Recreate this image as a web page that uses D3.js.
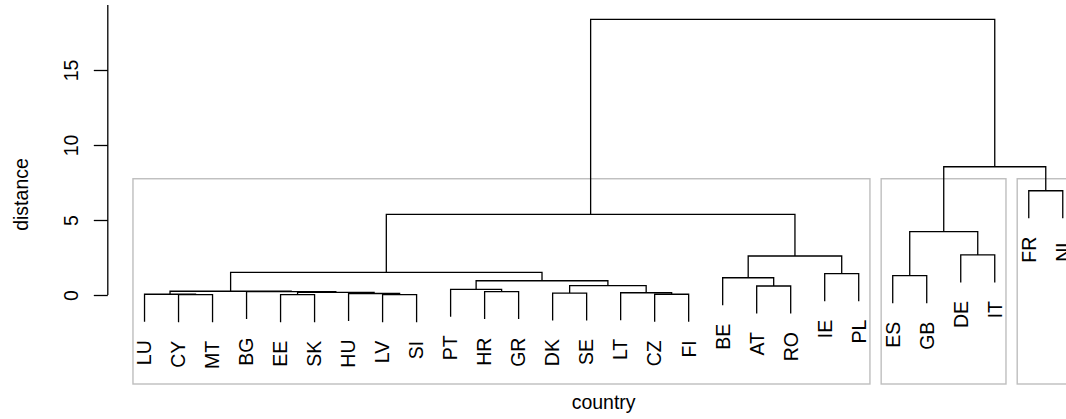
<!DOCTYPE html>
<html><head><meta charset="utf-8">
<script src="https://cdn.jsdelivr.net/npm/d3@7"></script>
<style>
body{margin:0;background:#fff}
text{font-family:"Liberation Sans",Arial,sans-serif;fill:#000}
</style>
</head><body>
<svg id="chart" width="1066" height="419"></svg>
<script>
// leaf labels in dendrogram order
const countries = ["LU","CY","MT","BG","EE","SK","HU","LV","SI","PT","HR","GR","DK","SE","LT","CZ","FI","BE","AT","RO","IE","PL","ES","GB","DE","IT","FR","NL"];
// merges (R hclust style: negative = leaf index in countries, positive = earlier merge number)
const mergeA = [-2,-5,-8,-16,-1,-7,-13,-15, 2,-4, 5,-11,-10,-19, 7,13,-18,-23,-21,11,17,-25,18,20,-27,23,24];
const mergeB = [-3,-6,-9,-17, 1, 3,-14,  4, 6, 9,10,-12, 12,-20, 8,15, 14,-24,-22,16,19,-26,22,21,-28,25,26];
const mergeHeight = [0.02,0.02,0.02,0.05,0.05,0.1,0.13,0.15,0.17,0.23,0.25,0.23,0.38,0.6,0.62,0.95,1.15,1.29,1.42,1.51,2.6,2.67,4.22,5.38,6.95,8.55,18.37];
const yTicks = [0, 5, 10, 15];
const clusterSizes = [22, 4, 2];
const xTitle = "country";
const yTitle = "distance";

const svg = d3.select("#chart");
const FS = 19.5;
const n = countries.length;
const x = d3.scaleLinear().domain([-0.08, n + 1.08]).range([107.8, 1099.5]);
const y = d3.scaleLinear().domain([0, 15]).range([295, 70]);
const usrTop = y.invert(5), usrBottom = y.invert(384);
const hMax = d3.max(mergeHeight), hMin = d3.min(mergeHeight);
const hang = 0.1 * (hMax - hMin);

// rect.hclust boxes
const sortedH = mergeHeight.slice().sort((a,b)=>b-a);
const k = clusterSizes.length;
const rectTop = (sortedH[k-2] + sortedH[k-1]) / 2;
const cum = [0, ...d3.cumsum(clusterSizes)];
svg.append("g").selectAll("rect").data(clusterSizes).join("rect")
  .attr("x", (d,i)=>x(cum[i]+0.66))
  .attr("width", (d,i)=>x(cum[i+1]+0.33)-x(cum[i]+0.66))
  .attr("y", y(rectTop))
  .attr("height", y(usrBottom)-y(rectTop))
  .attr("fill","none").attr("stroke","#bebebe").attr("stroke-width",1.4);

// dendrogram
const nodeX = [];
const leafBottom = {};
const paths = [];
mergeA.forEach((a, i) => {
  const b = mergeB[i];
  const h = mergeHeight[i];
  const child = c => {
    if (c < 0) { const lb = h - hang; leafBottom[-c] = lb; return {x: x(-c), y: y(lb)}; }
    return {x: nodeX[c-1], y: y(mergeHeight[c-1])};
  };
  const ca = child(a), cb = child(b);
  nodeX.push((ca.x + cb.x) / 2);
  paths.push(`M${ca.x},${ca.y}V${y(h)}H${cb.x}V${cb.y}`);
});
svg.append("g").selectAll("path").data(paths).join("path")
  .attr("d", d=>d).attr("fill","none").attr("stroke","#000").attr("stroke-width",1.3);

// leaf labels
svg.append("g").selectAll("text").data(countries).join("text")
  .attr("transform", (d,i)=>`translate(${x(i+1)},${y(leafBottom[i+1]) + 18.5}) rotate(-90)`)
  .attr("text-anchor","end").attr("dy","0.35em")
  .style("font-size", FS+"px").text(d=>d);

// y axis
const ax = svg.append("g").attr("transform", `translate(${x(-0.08)},0)`)
  .call(d3.axisLeft(y).tickValues(yTicks).tickSize(14).tickFormat(d3.format("d")));
ax.select(".domain").remove();
ax.selectAll(".tick line").attr("stroke","#000").attr("stroke-width",1.3);
ax.selectAll(".tick text")
  .attr("x", null).attr("dy", null)
  .attr("transform", "translate(-30,0) rotate(-90)")
  .attr("text-anchor","middle")
  .style("font-size", FS+"px").style("font-family",'"Liberation Sans",Arial,sans-serif').attr("fill","#000");
ax.append("line").attr("x1",0).attr("x2",0).attr("y1",y(0)).attr("y2",y(usrTop))
  .attr("stroke","#000").attr("stroke-width",1.3);

// titles
svg.append("text").attr("transform", `translate(28,${(y(usrTop)+y(usrBottom))/2}) rotate(-90)`)
  .attr("text-anchor","middle").style("font-size", FS+"px").text(yTitle);
svg.append("text").attr("x", (x(-0.08)+x(n+1.08))/2).attr("y", 409)
  .attr("text-anchor","middle").style("font-size", FS+"px").text(xTitle);
</script>
</body></html>
